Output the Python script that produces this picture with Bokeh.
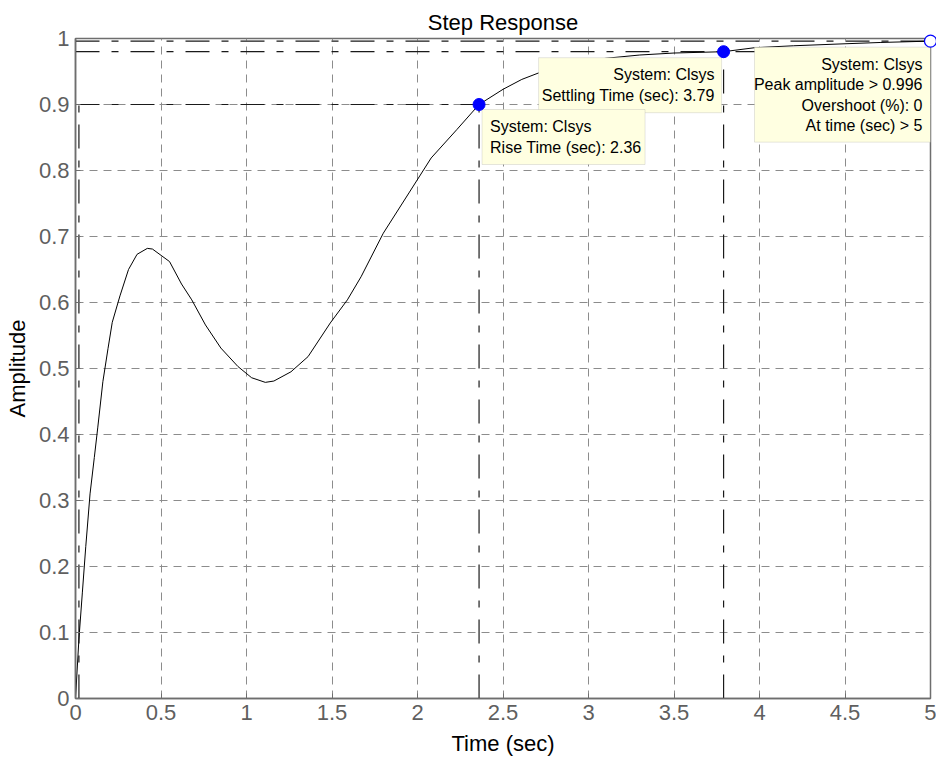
from bokeh.plotting import figure
from bokeh.models import Range1d, FixedTicker, BoxAnnotation, Label
from bokeh.embed import file_html
from bokeh.resources import INLINE

# ---- data ----
time_s = [0, 0.02, 0.04, 0.06, 0.085, 0.11, 0.13, 0.16, 0.19, 0.215, 0.26, 0.31,
          0.36, 0.42, 0.45, 0.55, 0.62, 0.68, 0.76, 0.85, 0.95, 1.03, 1.11, 1.16,
          1.26, 1.36, 1.49, 1.59, 1.67, 1.80, 1.95, 2.08, 2.23, 2.36, 2.50, 2.61,
          2.72, 2.90, 3.10, 3.30, 3.50, 3.79, 3.97, 4.20, 4.50, 4.71, 5.00]
amplitude = [0, 0.09, 0.16, 0.23, 0.31, 0.365, 0.41, 0.48, 0.53, 0.57, 0.61, 0.65,
             0.673, 0.682, 0.681, 0.662, 0.628, 0.604, 0.566, 0.531, 0.503, 0.486, 0.479, 0.481,
             0.495, 0.518, 0.569, 0.604, 0.639, 0.705, 0.766, 0.819, 0.862, 0.900, 0.923, 0.938,
             0.949, 0.962, 0.970, 0.975, 0.978, 0.980, 0.986, 0.989, 0.992, 0.994, 0.996]

x_ticks = [0, 0.5, 1, 1.5, 2, 2.5, 3, 3.5, 4, 4.5, 5]
x_tick_labels = ["0", "0.5", "1", "1.5", "2", "2.5", "3", "3.5", "4", "4.5", "5"]
y_ticks = [0, 0.1, 0.2, 0.3, 0.4, 0.5, 0.6, 0.7, 0.8, 0.9, 1]
y_tick_labels = ["0", "0.1", "0.2", "0.3", "0.4", "0.5", "0.6", "0.7", "0.8", "0.9", "1"]

rise_start_t = 0.02
rise_t, rise_y = 2.36, 0.9
settle_t, settle_y = 3.79, 0.98
peak_t, peak_y = 5.0, 0.996

rise_text = ["System: Clsys", "Rise Time (sec): 2.36"]
settle_text = ["System: Clsys", "Settling Time (sec): 3.79"]
peak_text = ["System: Clsys", "Peak amplitude > 0.996", "Overshoot (%): 0", "At time (sec) > 5"]

# ---- layout ----
W, H = 936, 760
FL, FR, FT, FB = 75, 6, 38, 62
FW, FH = W - FL - FR, H - FT - FB
XR, YR = (0, 5), (0, 1)
def px_x(d):  # pixel offset -> data x
    return d * (XR[1] - XR[0]) / FW
def px_y(d):  # pixel offset -> data y
    return d * (YR[1] - YR[0]) / FH

FONT = "Liberation Sans"
p = figure(width=W, height=H, x_range=Range1d(*XR), y_range=Range1d(*YR),
           output_backend="svg", toolbar_location=None,
           min_border_left=FL, min_border_right=FR, min_border_top=FT, min_border_bottom=FB,
           title="Step Response")
p.background_fill_color = "white"
p.border_fill_color = "white"
p.outline_line_color = "#6e6e6e"
p.outline_line_width = 1.5

p.title.align = "center"
p.title.text_font = FONT
p.title.text_font_size = "22px"
p.title.text_font_style = "normal"
p.title.text_color = "black"
p.title.standoff = 7

for ax, ticks, labels in ((p.xaxis[0], x_ticks, x_tick_labels), (p.yaxis[0], y_ticks, y_tick_labels)):
    ax.ticker = FixedTicker(ticks=ticks)
    ax.major_label_overrides = {t: l for t, l in zip(ticks, labels)}
    ax.major_tick_in = 5
    ax.major_tick_out = 0
    ax.minor_tick_line_color = None
    ax.major_tick_line_color = "#6e6e6e"
    ax.axis_line_color = "#6e6e6e"
    ax.axis_line_width = 1.5
    ax.major_label_text_font = FONT
    ax.major_label_text_font_size = "22px"
    ax.major_label_text_color = "#5f5f5f"
    ax.axis_label_text_font = FONT
    ax.axis_label_text_font_size = "22px"
    ax.axis_label_text_font_style = "normal"
    ax.axis_label_text_color = "black"

p.xaxis.axis_label = "Time (sec)"
p.yaxis.axis_label = "Amplitude"
p.xaxis.major_label_standoff = 6
p.xaxis.axis_label_standoff = 8
p.yaxis.major_label_standoff = 6
p.yaxis.axis_label_standoff = 6

for g in (p.xgrid[0], p.ygrid[0]):
    g.grid_line_color = "#8c8c8c"
    g.grid_line_dash = "8 6"
    g.grid_line_width = 1

# guide lines (dash-dot)
GUIDE = dict(line_color="#1a1a1a", line_width=1.2, line_dash="24 12 7 12")
p.line([0, rise_t], [rise_y, rise_y], **GUIDE)
p.line([rise_start_t, rise_start_t], [0, rise_y], **GUIDE)
p.line([rise_t, rise_t], [0, rise_y], **GUIDE)
p.line([0, XR[1]], [settle_y, settle_y], **GUIDE)
p.line([settle_t, settle_t], [0, settle_y], **GUIDE)
p.line([0, peak_t], [peak_y, peak_y], **GUIDE)

# response curve
p.line(time_s, amplitude, line_color="black", line_width=1)

# data tips
BOX = dict(fill_color="#ffffe1", fill_alpha=1.0, line_color="#a8a8a8", line_width=1, level="annotation")
LINE_H = 20.5
def tip(ax, ay, left_off, top_off, width, height, lines, align, text_x_off, first_line_off):
    left = ax + px_x(left_off)
    top = ay - px_y(top_off)
    p.add_layout(BoxAnnotation(left=left, right=left + px_x(width), top=top,
                               bottom=top - px_y(height), **BOX))
    for i, s in enumerate(lines):
        p.add_layout(Label(x=left + px_x(text_x_off), y=top - px_y(first_line_off + i * LINE_H),
                           text=s, text_align=align, text_baseline="middle",
                           text_font=FONT, text_font_size="16px", text_color="black"))

tip(settle_t, settle_y, -185, 6, 183, 55, settle_text, "right", 176, 17)
tip(rise_t, rise_y, 3, 5, 163, 55, rise_text, "left", 8, 17)
tip(peak_t, peak_y, -176, 6, 176, 95, peak_text, "right", 168, 17)

# markers
p.scatter([rise_t, settle_t], [rise_y, settle_y], size=12, fill_color="#0000ff",
          line_color="#0000ff", level="overlay")
p.scatter([peak_t], [peak_y], size=12, fill_color="white", line_color="#0000ff",
          line_width=1.2, level="overlay")

open("out.html", "w").write(file_html(p, INLINE))
